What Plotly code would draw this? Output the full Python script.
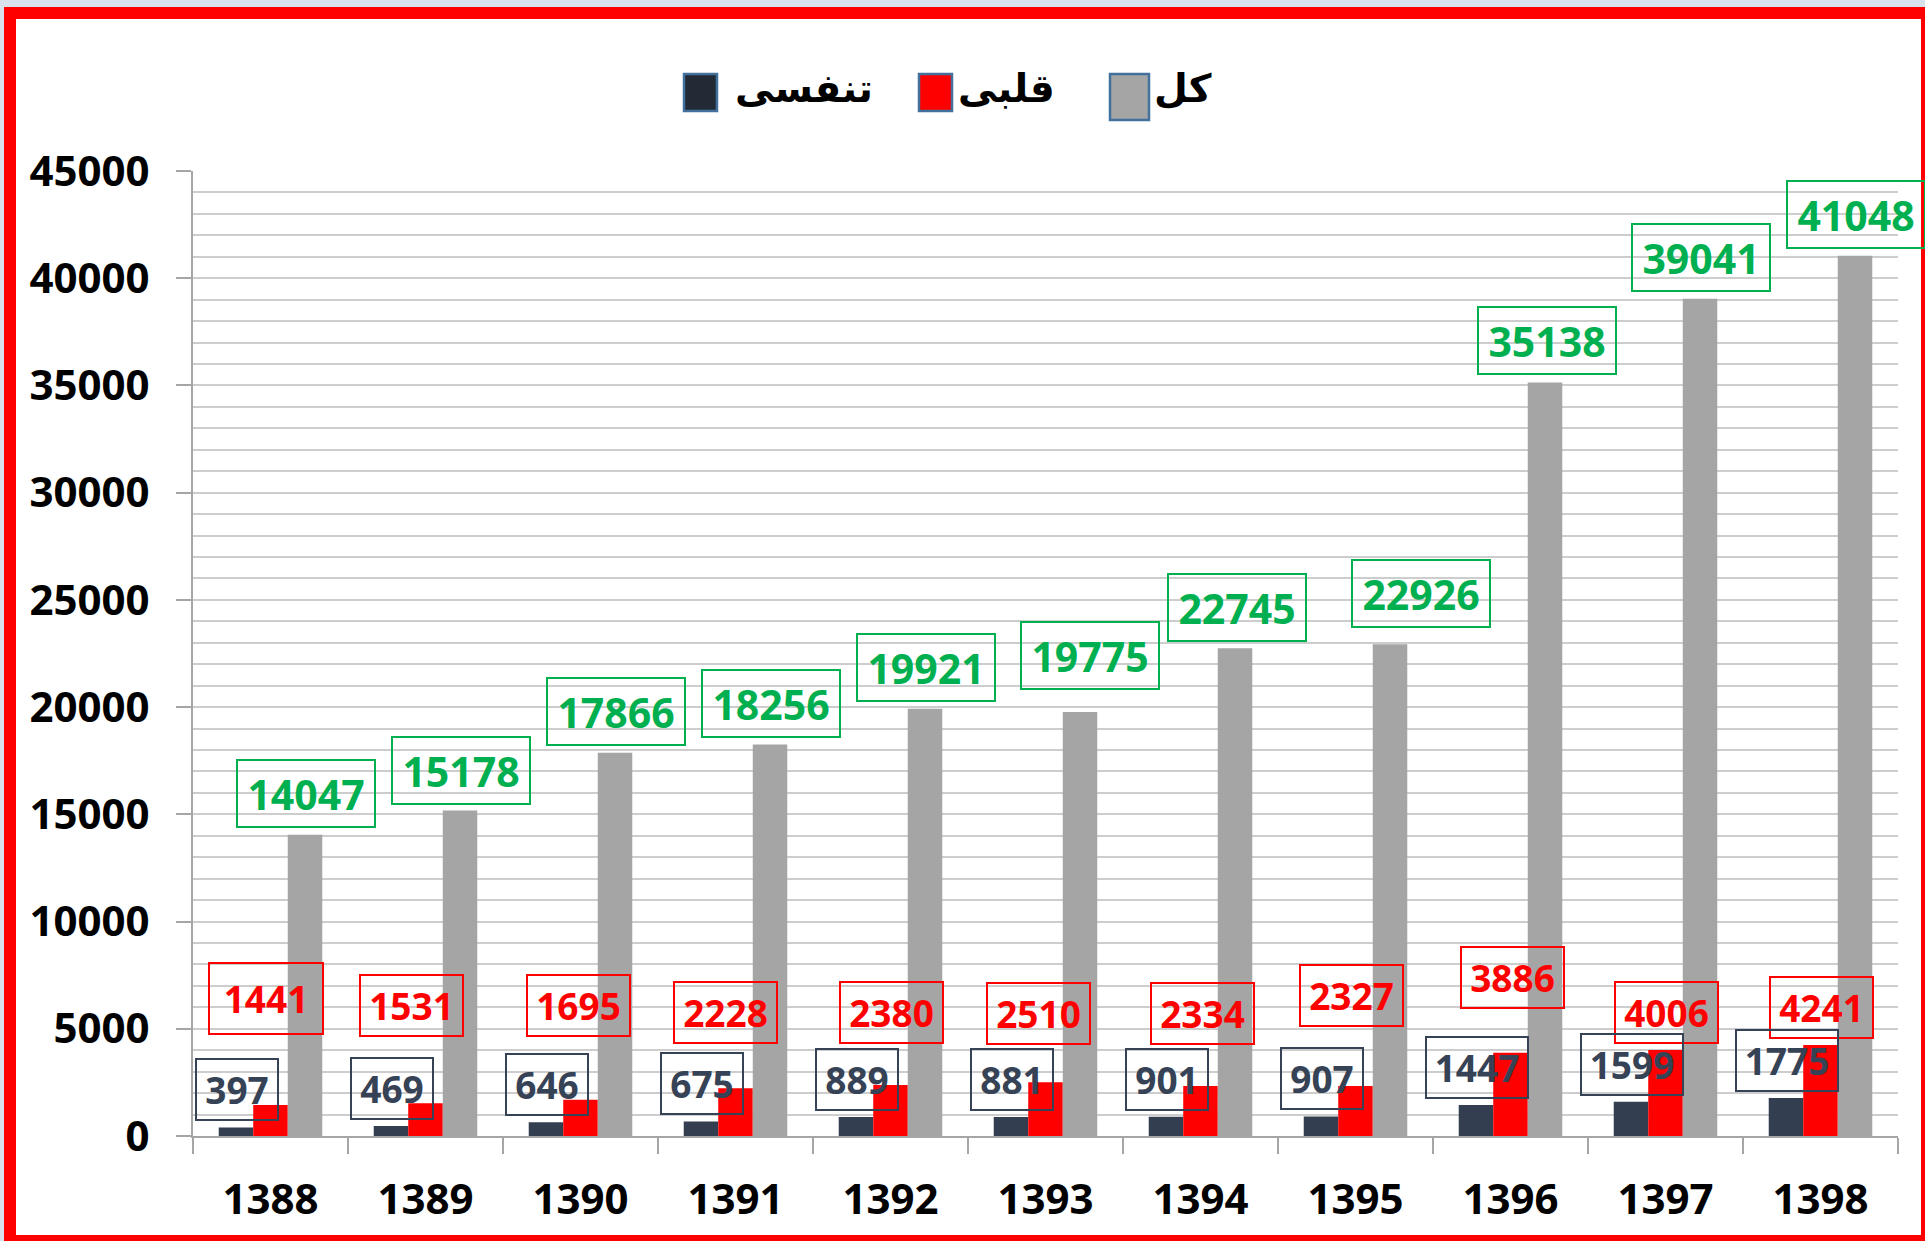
import plotly.graph_objects as go

# ---------------- data ----------------
years = ["1388", "1389", "1390", "1391", "1392", "1393", "1394", "1395", "1396", "1397", "1398"]
respiratory = [397, 469, 646, 675, 889, 881, 901, 907, 1447, 1599, 1775]          # تنفسی
cardiac = [1441, 1531, 1695, 2228, 2380, 2510, 2334, 2327, 3886, 4006, 4241]       # قلبی
total = [14047, 15178, 17866, 18256, 19921, 19775, 22745, 22926, 35138, 39041, 41048]  # کل
y_tick_values = [0, 5000, 10000, 15000, 20000, 25000, 30000, 35000, 40000, 45000]
series_names = ["تنفسی", "قلبی", "کل"]

# ---------------- style / layout ----------------
W, H = 1925, 1241
ML, MR, MT, MB = 193, 27, 171, 105
PW, PH = W - ML - MR, H - MT - MB
BARGAP = 0.332
BAR_W = PW / len(years) * (1 - BARGAP) / 3

C_DARK = "#333F50"
C_RED = "#FF0000"
C_GRAY = "#A5A5A5"
C_GREEN = "#00B050"
C_AXIS = "#A6A6A6"
C_GRID = "#CDCDCD"
NUM_FONT = "Open Sans, Liberation Sans, sans-serif"
FA_FONT = "DejaVu Sans, Noto Sans, sans-serif"

# label offsets (px) relative to their own bar center / bar top
green_dx = [1, 1, 1, 1, 1, 10, 2, 31, 2, 1, 1]
green_dy = [41, 40.5, 41, 41, 41, 56.5, 41, 50.5, 41.5, 41.5, 41]
red_dx = [-5, -14, -2, -10.5, 1, -7.5, 2, -4, 2, 1, 1]
red_dy = [106.5, 97.5, 94.5, 75.5, 72.5, 69, 72.5, 91, 75.5, 38, 38]
red_w = [112, 101, 101, 101, 101, 101, 101, 101, 101, 101, 101]
red_h = [69, 59, 59, 59, 59, 59, 59, 59, 59, 59, 59]
dark_dx = 1
dark_dy = 37.6


def px2x(px):
    return (px - ML) / PW


def py2y(py):
    return (H - MB - py) / PH


fig = go.Figure()
for name, vals, col in zip(series_names, [respiratory, cardiac, total], [C_DARK, C_RED, C_GRAY]):
    fig.add_trace(go.Bar(x=years, y=vals, name=name, marker=dict(color=col, line=dict(width=0)),
                         showlegend=False))

annotations = []
for i, yr in enumerate(years):
    # total (green)
    annotations.append(dict(
        x=i, y=total[i], xref="x", yref="y", text=str(total[i]), showarrow=False,
        xanchor="center", yanchor="middle", xshift=BAR_W + green_dx[i], yshift=green_dy[i],
        font=dict(family=NUM_FONT, size=41, color=C_GREEN, weight="bold"),
        bordercolor=C_GREEN, borderwidth=2, borderpad=0, width=136, height=65))
    # cardiac (red)
    annotations.append(dict(
        x=i, y=cardiac[i], xref="x", yref="y", text=str(cardiac[i]), showarrow=False,
        xanchor="center", yanchor="middle", xshift=red_dx[i], yshift=red_dy[i],
        font=dict(family=NUM_FONT, size=37, color=C_RED, weight="bold"),
        bordercolor=C_RED, borderwidth=2, borderpad=0, width=red_w[i], height=red_h[i]))
    # respiratory (dark)
    annotations.append(dict(
        x=i, y=respiratory[i], xref="x", yref="y", text=str(respiratory[i]), showarrow=False,
        xanchor="center", yanchor="middle", xshift=-BAR_W + dark_dx, yshift=dark_dy,
        font=dict(family=NUM_FONT, size=37, color="#364255", weight="bold"),
        bordercolor="#364255", borderwidth=2, borderpad=0,
        width=80 if respiratory[i] < 1000 else 100, height=59))

# manual legend (symbol then text, left to right)
legend_items = [
    (series_names[0], "#222A35", (684, 717, 74, 111), 733),
    (series_names[1], C_RED, (919, 952, 74, 111), 956),
    (series_names[2], C_GRAY, (1110, 1149, 74, 120), 1152),
]
shapes = [
    dict(type="rect", xref="paper", yref="paper", x0=px2x(10), x1=px2x(1927), y0=py2y(13), y1=py2y(1241),
         line=dict(color="#FF0000", width=12), fillcolor="white", layer="below"),
]
for name, col, (x0, x1, y0, y1), tx in legend_items:
    shapes.append(dict(type="rect", xref="paper", yref="paper", x0=px2x(x0), x1=px2x(x1),
                       y0=py2y(y1), y1=py2y(y0), fillcolor=col,
                       line=dict(color="#41719C", width=2.5)))
    annotations.append(dict(x=px2x(tx), y=py2y(88), xref="paper", yref="paper", text=name,
                            showarrow=False, xanchor="left", yanchor="middle",
                            font=dict(family=FA_FONT, size=39, color="black", weight="bold")))

fig.update_layout(
    width=W, height=H,
    margin=dict(l=ML, r=MR, t=MT, b=MB, autoexpand=False),
    paper_bgcolor="#D9E2EC", plot_bgcolor="white",
    barmode="group", bargap=BARGAP, bargroupgap=0,
    showlegend=False,
    annotations=annotations, shapes=shapes,
    xaxis=dict(type="category", range=[-0.5, len(years) - 0.5], showline=True, linecolor=C_AXIS,
               linewidth=2, ticks="outside", tickson="boundaries", ticklen=16, tickcolor=C_AXIS,
               tickwidth=2, showgrid=False, ticklabelstandoff=26,
               tickfont=dict(family=NUM_FONT, size=42, color="black", weight="bold")),
    yaxis=dict(range=[0, 45000], tickvals=y_tick_values, ticktext=[str(v) for v in y_tick_values],
               showline=True, linecolor=C_AXIS, linewidth=2, ticks="outside", ticklen=15,
               tickcolor=C_AXIS, tickwidth=2, showgrid=True, gridcolor=C_GRID, gridwidth=2,
               zeroline=False, ticklabelstandoff=18,
               minor=dict(dtick=1000, showgrid=True, gridcolor=C_GRID, gridwidth=2, ticks=""),
               tickfont=dict(family=NUM_FONT, size=42, color="black", weight="bold")),
)

fig.write_html("out.html", config={"displayModeBar": False},
               post_script="document.body.style.margin='0px';document.body.style.overflow='hidden';")
